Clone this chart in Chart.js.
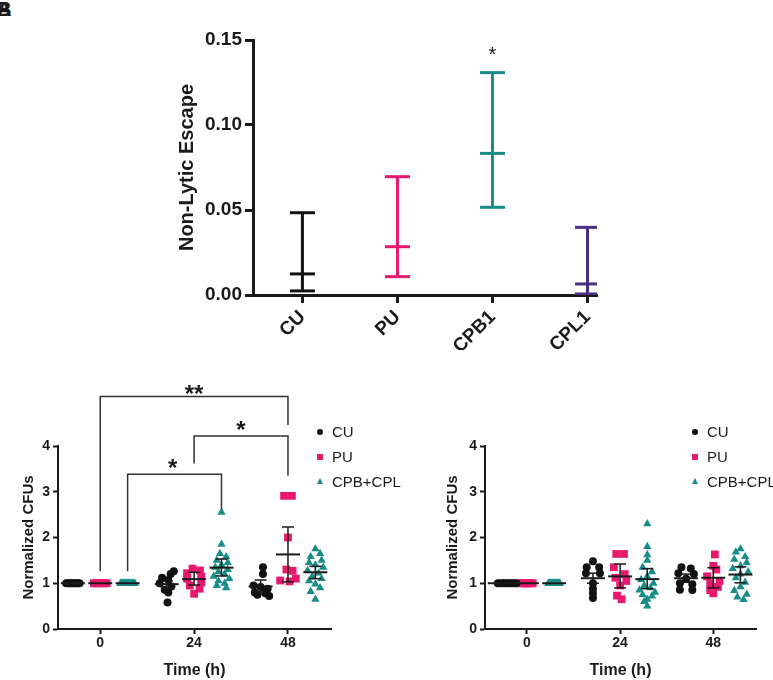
<!DOCTYPE html>
<html>
<head>
<meta charset="utf-8">
<title>Non-lytic escape and normalized CFUs</title>
<script src="https://cdn.jsdelivr.net/npm/chart.js@4.4.1/dist/chart.umd.min.js"></script>
<style>
  html, body { margin: 0; padding: 0; background: #fff; }
  body { position: relative; width: 773px; height: 680px; overflow: hidden;
         font-family: "Liberation Sans", Arial, sans-serif; color: #1a1a1a; }
  canvas { position: absolute; }
  #escape { left: 165px; top: 0; }
  #cfuLeft { left: 0; top: 370px; }
  #cfuRight { left: 424px; top: 370px; }
  .panel { position: absolute; left: -3px; top: -1px; font-weight: bold; font-size: 20px; line-height: 20px; }
  .legend { position: absolute; top: 423px; font-size: 15px; }
  .legend .row { position: relative; height: 25px; line-height: 18px; padding-left: 17px; white-space: nowrap; }
  .legend .mk { position: absolute; left: 2px; top: 6px; width: 6px; height: 6px; }
  .legend .mk.circle { border-radius: 50%; }
  .legend .mk.triangle { width: 0; height: 0; left: 1.5px; top: 5px; background: none !important;
                         border-left: 3.5px solid transparent; border-right: 3.5px solid transparent; border-bottom: 6px solid; }
</style>
</head>
<body>
<div class="panel">A</div>
<div class="panel">B</div>
<canvas id="escape" width="452" height="350"></canvas>
<canvas id="cfuLeft" width="345" height="310"></canvas>
<canvas id="cfuRight" width="346" height="310"></canvas>
<div class="legend" id="legendLeft" style="left:315px"></div>
<div class="legend" id="legendRight" style="left:690px"></div>

<script>
// ---- top panel: non-lytic escape (mean with range) ----
const escapeCats = ['CU', 'PU', 'CPB1', 'CPL1'];
const escapeMean = [0.0124, 0.0284, 0.0833, 0.0065];
const escapeLow = [0.0024, 0.0108, 0.0516, 0.0006];
const escapeHigh = [0.0484, 0.0696, 0.1308, 0.0398];
const escapeTicks = [0, 0.05, 0.10, 0.15];
const escapeStars = [{ x: 2, y: 0.1375, text: '*' }];

// ---- bottom panels: normalized CFUs over time ----
const timeHours = [0, 24, 48];
const timeLabels = ['0', '24', '48'];
const groupNames = ['CU', 'PU', 'CPB+CPL'];

// points per series: [time 0, time 24, time 48], each [jitter (h), value]
const leftCU = [
  [[-1.7,1],[-1.3,1],[-0.85,1],[-0.4,1],[0,1],[0.4,1],[0.85,1],[1.3,1],[1.7,1]],
  [[1.8,1.26],[1.0,1.20],[-1.2,1.12],[0.4,1.07],[-1.8,1.00],[1.2,0.93],[-0.5,0.86],[0.4,0.80],[0.2,0.58]],
  [[0.6,1.35],[0.6,1.20],[-1.8,0.95],[0,0.92],[1.8,0.88],[-1.5,0.80],[1.2,0.78],[2.2,0.72],[-0.8,0.75]]
];
const leftPU = [
  [[-1.65,1],[-1.2,1],[-0.7,1],[-0.25,1],[0.25,1],[0.7,1],[1.2,1],[1.65,1]],
  [[-0.4,1.32],[1.5,1.28],[-1.8,1.22],[1.8,1.15],[-1.8,1.10],[1.8,1.02],[-1.1,0.95],[1.4,0.88],[0,0.77]],
  [[-1,2.91],[1,2.91],[0,2.00],[-0.4,1.30],[1.2,1.27],[2,1.10],[-2,1.06],[0.4,1.04]]
];
const leftCPB = [
  [[-1.84,1],[-1.61,1],[-1.38,1],[-1.15,1],[-0.92,1],[-0.69,1],[-0.46,1],[-0.23,1],[0,1],[0.23,1],[0.46,1],[0.69,1],[0.92,1],[1.15,1],[1.38,1],[1.61,1],[1.84,1]],
  [[0,2.55],[0,1.85],[-0.4,1.65],[1.2,1.58],[-1.2,1.50],[1.6,1.45],[0,1.40],[-1.6,1.35],[1.6,1.30],[-0.8,1.25],[0.8,1.20],[-2,1.15],[2,1.10],[-0.8,1.05],[0.8,1.00],[-1.2,0.95],[1.2,0.90]],
  [[0,1.75],[1.2,1.65],[-1.2,1.58],[1.6,1.50],[-1.6,1.45],[0,1.40],[2,1.35],[-2,1.28],[0.8,1.22],[-0.8,1.15],[1.6,1.10],[-1.6,1.05],[0,0.98],[1.2,0.90],[-1.2,0.82],[0,0.65]]
];
const leftMean = [[1, 0.98, 0.93], [1, 1.09, 1.63], [1, 1.34, 1.24]];
const leftLow = [[1, 0.91, 0.81], [1, 0.96, 1.03], [1, 1.16, 1.10]];
const leftHigh = [[1, 1.05, 1.07], [1, 1.24, 2.23], [1, 1.53, 1.37]];

const rightCU = [
  [[-0.5,1],[0.1,1],[0.7,1],[1.3,1],[1.9,1],[2.5,1],[3.1,1],[3.7,1],[4.3,1]],
  [[0,1.48],[-1.6,1.35],[1.6,1.35],[-1.8,1.22],[1.8,1.22],[0,1.00],[0,0.88],[0,0.78],[0,0.68]],
  [[-1.2,1.35],[1.2,1.32],[-2,1.22],[2,1.20],[0,1.10],[-1.6,1.00],[1.6,0.98],[-1.6,0.86],[1.6,0.85]]
];
const rightPU = [
  [[-1.5,1],[-1.1,1],[-0.75,1],[-0.35,1],[0,1],[0.35,1],[0.75,1],[1.1,1],[1.5,1]],
  [[-1,1.64],[1,1.64],[-1.6,1.35],[1.2,1.20],[-1.2,1.12],[1.6,1.05],[0,0.95],[-0.8,0.73],[0.4,0.65]],
  [[0.4,1.63],[0,1.38],[0.8,1.30],[-1.6,1.15],[1.6,1.05],[-0.8,1.00],[1.2,0.92],[-0.8,0.85],[0,0.78]]
];
const rightCPB = [
  [[-1.5,1],[-1.32,1],[-1.15,1],[-0.97,1],[-0.79,1],[-0.62,1],[-0.44,1],[-0.26,1],[-0.09,1],[0.09,1],[0.26,1],[0.44,1],[0.62,1],[0.79,1],[0.97,1],[1.15,1],[1.32,1],[1.5,1]],
  [[0,2.30],[0,1.80],[0,1.62],[0,1.50],[-1.2,1.35],[1.2,1.25],[0,1.15],[-1.6,1.08],[1.6,1.00],[-0.8,0.95],[0.8,0.90],[-2,0.85],[2,0.80],[-1.2,0.75],[1.2,0.72],[0,0.65],[-0.8,0.60],[0,0.50]],
  [[0,1.75],[-1.2,1.68],[1.2,1.58],[-1.6,1.52],[1.6,1.45],[0,1.38],[-2,1.32],[2,1.25],[0,1.20],[-1.2,1.12],[1.2,1.02],[0,0.92],[-1.6,0.84],[1.6,0.76],[-0.8,0.70],[0.8,0.64]]
];
const rightMean = [[1, 1.11, 1.11], [1, 1.15, 1.12], [1, 1.09, 1.19]];
const rightLow = [[1, 1.00, 1.02], [1, 0.90, 0.90], [1, 0.88, 1.01]];
const rightHigh = [[1, 1.22, 1.20], [1, 1.42, 1.34], [1, 1.32, 1.36]];

// significance brackets (left panel), x in hours, y in CFU units
const bracketLabels = ['**', '*', '*'];
const bracketFrom = [0, 24, 7];
const bracketTo = [48, 48, 31];
const bracketTop = [5.08, 4.22, 3.38];
const bracketFromEnd = [1.26, 3.62, 1.26];
const bracketToEnd = [4.46, 3.35, 2.62];
const bracketLabelX = [24, 36, 18.5];
const bracketLabelY = [4.97, 4.18, 3.34];

// styles
const FONT = '"Liberation Sans", Arial, sans-serif';
const INK = '#1a1a1a';
const escapeColors = ['#111111', '#e8186d', '#178c88', '#4b2f86'];
const seriesColors = ['#111111', '#e8186d', '#178c88'];
const markerStyle = ['circle', 'rect', 'triangle'];
const markerRadius = [4, 5.5, 4.8];
const groupShift = [-7, 0, 7];

Chart.defaults.font.family = FONT;
Chart.defaults.color = INK;

const sigMarks = {
  id: 'sigMarks',
  afterDatasetsDraw(chart, args, opts) {
    const { ctx, scales: { x, y } } = chart;
    ctx.save();
    ctx.fillStyle = INK;
    ctx.textAlign = 'center';
    ctx.textBaseline = 'alphabetic';
    ctx.font = opts.font;
    opts.marks.forEach(m => ctx.fillText(m.text, x.getPixelForValue(m.x), y.getPixelForValue(m.y)));
    ctx.restore();
  }
};

function axisLook(size, tickLen) {
  return {
    grid: { display: true, drawOnChartArea: false, drawTicks: true, tickLength: tickLen, tickWidth: size, tickColor: INK },
    border: { display: true, width: size, color: INK }
  };
}

// top chart
new Chart(document.getElementById('escape'), {
  type: 'scatter',
  data: {
    datasets: [
      ...escapeCats.map((c, i) => ({
        label: c + ' range',
        showLine: true,
        data: [{ x: i, y: escapeLow[i] }, { x: i, y: escapeHigh[i] }],
        borderColor: escapeColors[i],
        borderWidth: 3,
        pointRadius: 0
      })),
      ...escapeCats.map((c, i) => ({
        label: c,
        data: [{ x: i, y: escapeLow[i] }, { x: i, y: escapeMean[i] }, { x: i, y: escapeHigh[i] }],
        pointStyle: 'line',
        pointRadius: 12.5,
        borderColor: escapeColors[i],
        borderWidth: 3
      }))
    ]
  },
  options: {
    responsive: false,
    animation: false,
    events: [],
    layout: { padding: { top: 40, right: 20, left: 0, bottom: 0 } },
    plugins: {
      legend: { display: false },
      tooltip: { enabled: false },
      sigMarks: { marks: escapeStars, font: '20px ' + FONT }
    },
    scales: {
      x: {
        type: 'linear', min: -0.52, max: 3.1,
        afterBuildTicks: s => { s.ticks = escapeCats.map((c, i) => ({ value: i })); },
        afterFit: s => { s.height = 55; },
        ticks: { callback: v => escapeCats[v], minRotation: 45, maxRotation: 45, padding: 3,
                 color: INK, font: { size: 19, weight: 'bold' } },
        ...axisLook(3, 8)
      },
      y: {
        min: 0, max: 0.15,
        afterBuildTicks: s => { s.ticks = escapeTicks.map(v => ({ value: v })); },
        afterFit: s => { s.width = 88; },
        ticks: { callback: v => v.toFixed(2), padding: 3, color: INK, font: { size: 19, weight: 'bold' } },
        title: { display: true, text: 'Non-Lytic Escape', color: INK,
                 font: { size: 20, weight: 'bold' }, padding: { top: 10, bottom: 0 } },
        ...axisLook(3, 8)
      }
    }
  },
  plugins: [sigMarks]
});

// bottom charts
function cfuDatasets(points, mean, low, high) {
  const sets = [];
  points.forEach((series, i) => {
    const pts = [];
    timeHours.forEach((t, k) => series[k].forEach(([j, v]) => pts.push({ x: t + groupShift[i] + j, y: v })));
    sets.push({
      label: groupNames[i], data: pts, order: 2,
      pointStyle: markerStyle[i], pointRadius: markerRadius[i],
      backgroundColor: seriesColors[i], borderColor: seriesColors[i], borderWidth: 0
    });
    const stem = [];
    timeHours.forEach((t, k) => {
      if (high[i][k] > low[i][k]) {
        stem.push({ x: t + groupShift[i], y: low[i][k] }, { x: t + groupShift[i], y: high[i][k] }, { x: t + groupShift[i], y: null });
      }
    });
    sets.push({ label: groupNames[i] + ' sem', data: stem, showLine: true, spanGaps: false, order: 0,
                borderColor: INK, borderWidth: 1.5, pointRadius: 0 });
    const caps = [];
    timeHours.forEach((t, k) => {
      if (high[i][k] > low[i][k]) caps.push({ x: t + groupShift[i], y: low[i][k] }, { x: t + groupShift[i], y: high[i][k] });
    });
    sets.push({ label: groupNames[i] + ' caps', data: caps, order: 0,
                pointStyle: 'line', pointRadius: 6, borderColor: INK, borderWidth: 1.5 });
    sets.push({ label: groupNames[i] + ' mean', order: 0,
                data: timeHours.map((t, k) => ({ x: t + groupShift[i], y: mean[i][k] })),
                pointStyle: 'line', pointRadius: 12, borderColor: INK, borderWidth: 2 });
  });
  return sets;
}

function cfuChart(id, datasets, axisWidth, marks) {
  return new Chart(document.getElementById(id), {
    type: 'scatter',
    data: { datasets },
    options: {
      responsive: false,
      animation: false,
      events: [],
      layout: { padding: { top: 76, right: 12, left: 0, bottom: 0 } },
      plugins: {
        legend: { display: false },
        tooltip: { enabled: false },
        sigMarks: { marks, font: 'bold 24px ' + FONT }
      },
      scales: {
        x: {
          type: 'linear', min: -10.8, max: 59,
          afterBuildTicks: s => { s.ticks = timeHours.map(v => ({ value: v })); },
          afterFit: s => { s.height = 51; },
          ticks: { callback: v => timeLabels[timeHours.indexOf(v)], maxRotation: 0, padding: 1,
                   color: INK, font: { size: 14, weight: 'bold' } },
          title: { display: true, text: 'Time (h)', color: INK,
                   font: { size: 16, weight: 'bold' }, padding: { top: 0, bottom: 0 } },
          ...axisLook(2, 5)
        },
        y: {
          min: 0, max: 4,
          ticks: { stepSize: 1, padding: 3, color: INK, font: { size: 14, weight: 'bold' } },
          afterFit: s => { s.width = axisWidth; },
          title: { display: true, text: 'Normalized CFUs', color: INK,
                   font: { size: 15, weight: 'bold' }, padding: { top: 20, bottom: 0 } },
          ...axisLook(2, 5)
        }
      }
    },
    plugins: [sigMarks]
  });
}

const bracketSets = bracketLabels.map((lab, b) => ({
  label: 'bracket ' + lab,
  showLine: true, clip: false, order: 1,
  data: [
    { x: bracketFrom[b], y: bracketFromEnd[b] },
    { x: bracketFrom[b], y: bracketTop[b] },
    { x: bracketTo[b], y: bracketTop[b] },
    { x: bracketTo[b], y: bracketToEnd[b] }
  ],
  borderColor: '#333333', borderWidth: 1.5, pointRadius: 0
}));
const bracketMarks = bracketLabels.map((t, b) => ({ x: bracketLabelX[b], y: bracketLabelY[b], text: t }));

cfuChart('cfuLeft',
  [...cfuDatasets([leftCU, leftPU, leftCPB], leftMean, leftLow, leftHigh), ...bracketSets],
  58, bracketMarks);
cfuChart('cfuRight',
  cfuDatasets([rightCU, rightPU, rightCPB], rightMean, rightLow, rightHigh),
  61, []);

// legends
function buildLegend(id) {
  const box = document.getElementById(id);
  groupNames.forEach((name, i) => {
    const row = document.createElement('div');
    row.className = 'row';
    const mk = document.createElement('span');
    mk.className = 'mk ' + markerStyle[i];
    mk.style.background = seriesColors[i];
    mk.style.borderBottomColor = seriesColors[i];
    row.appendChild(mk);
    row.appendChild(document.createTextNode(name));
    box.appendChild(row);
  });
}
buildLegend('legendLeft');
buildLegend('legendRight');
</script>
</body>
</html>
